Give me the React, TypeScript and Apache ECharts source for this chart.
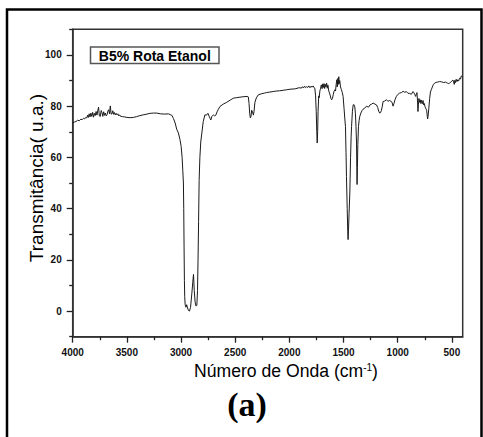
import React, { useEffect, useRef } from "react";
import * as echarts from "echarts";

// FTIR spectrum: [wavenumber (cm-1), transmittance (u.a.)]
const spectrum: [number, number][] = [
  [4000, 73.4], [3985, 73.8], [3970, 74.0], [3955, 74.5], [3940, 74.3], [3925, 74.9],
  [3913, 74.7], [3900, 75.3], [3890, 75.0], [3880, 75.6], [3870, 75.4], [3862, 76.5],
  [3855, 75.6], [3848, 77.0], [3840, 75.8], [3832, 77.3], [3824, 76.0], [3816, 77.6],
  [3808, 75.7], [3800, 77.2], [3792, 76.3], [3784, 77.9], [3776, 76.5], [3768, 78.4],
  [3761, 79.6], [3754, 76.2], [3745, 76.0], [3737, 78.3], [3729, 77.4], [3722, 76.0],
  [3714, 77.8], [3706, 76.4], [3699, 77.3], [3691, 76.2], [3683, 76.6], [3676, 78.0],
  [3668, 78.6], [3660, 77.0], [3653, 80.1], [3645, 76.9], [3637, 77.0], [3630, 78.2],
  [3622, 76.8], [3614, 77.5], [3607, 76.6], [3599, 77.2], [3591, 76.6], [3583, 77.0],
  [3575, 76.2], [3567, 76.6], [3561, 76.1], [3540, 75.9], [3520, 75.8], [3499, 75.6],
  [3470, 75.5], [3440, 75.6], [3410, 75.9], [3380, 76.3], [3350, 76.6], [3315, 76.9],
  [3285, 77.2], [3254, 77.3], [3225, 77.3], [3190, 77.0], [3150, 76.9], [3116, 77.0],
  [3100, 76.7], [3084, 76.4], [3070, 75.2], [3054, 73.4], [3040, 71.0], [3024, 69.5],
  [3010, 67.0], [2999, 64.3], [2990, 60.0], [2984, 55.0], [2978, 50.0], [2975, 40.0],
  [2972, 25.0], [2969, 12.0], [2966, 5.8], [2962, 2.5], [2955, 1.5], [2948, 2.5],
  [2940, 1.2], [2930, 0.2], [2922, 0.0], [2912, 1.5], [2900, 7.0], [2892, 11.0],
  [2885, 14.3], [2878, 8.0], [2870, 3.5], [2862, 2.0], [2854, 2.2], [2848, 8.0],
  [2843, 20.0], [2838, 35.0], [2833, 51.0], [2826, 60.0], [2818, 66.0], [2808, 69.5],
  [2795, 74.0], [2780, 76.6], [2765, 76.5], [2752, 77.2], [2740, 76.0], [2732, 75.2],
  [2725, 74.6], [2715, 76.0], [2701, 76.6], [2690, 76.2], [2680, 76.4], [2665, 78.0],
  [2655, 78.8], [2640, 79.9], [2610, 80.8], [2578, 81.5], [2545, 82.4], [2517, 83.1],
  [2490, 83.3], [2456, 83.5], [2420, 83.7], [2390, 83.8], [2379, 83.6], [2372, 81.0],
  [2366, 77.0], [2360, 75.4], [2354, 76.0], [2348, 78.4], [2340, 77.8], [2332, 76.5],
  [2326, 78.0], [2318, 81.5], [2305, 83.2], [2287, 84.4], [2260, 84.8], [2230, 85.1],
  [2210, 85.3], [2180, 85.5], [2150, 85.7], [2120, 85.9], [2090, 86.0], [2057, 86.2],
  [2025, 86.4], [1995, 86.6], [1965, 86.7], [1940, 86.8], [1920, 87.1], [1903, 87.2],
  [1890, 87.0], [1880, 87.6], [1870, 87.1], [1860, 87.8], [1850, 87.2], [1840, 87.6],
  [1830, 87.3], [1820, 87.9], [1810, 87.2], [1800, 87.8], [1790, 87.4], [1780, 87.9],
  [1772, 87.2], [1765, 87.0], [1758, 84.0], [1752, 78.0], [1747, 70.0], [1743, 65.6],
  [1739, 70.0], [1735, 78.0], [1729, 84.0], [1725, 83.3], [1718, 86.0], [1712, 87.0],
  [1705, 88.3], [1698, 86.8], [1692, 88.7], [1686, 87.3], [1680, 88.8], [1674, 86.9],
  [1668, 88.5], [1662, 87.5], [1656, 89.0], [1650, 87.0], [1644, 88.2], [1637, 86.0],
  [1630, 85.2], [1622, 84.0], [1615, 82.8], [1609, 82.5], [1602, 83.0], [1595, 84.5],
  [1588, 85.8], [1580, 86.4], [1574, 85.9], [1568, 88.5], [1562, 90.3], [1558, 87.5],
  [1553, 90.8], [1548, 88.5], [1544, 91.5], [1540, 88.8], [1535, 90.0], [1528, 87.5],
  [1520, 86.5], [1512, 85.4], [1504, 83.8], [1495, 79.0], [1488, 75.0], [1482, 72.0],
  [1477, 62.0], [1473, 52.6], [1466, 40.0], [1461, 31.0], [1458, 27.9], [1454, 32.0],
  [1449, 38.0], [1442, 46.1], [1435, 60.0], [1430, 68.0], [1426, 72.0], [1418, 78.0],
  [1411, 80.5], [1404, 80.6], [1396, 79.7], [1390, 77.0], [1385, 72.0], [1380, 65.6],
  [1377, 55.0], [1375, 49.4], [1372, 56.0], [1368, 65.0], [1362, 72.0], [1356, 74.5],
  [1350, 76.0], [1340, 77.3], [1330, 78.2], [1320, 78.8], [1305, 79.2], [1288, 80.0],
  [1270, 79.6], [1255, 80.5], [1240, 80.8], [1227, 81.2], [1210, 80.8], [1196, 80.5],
  [1185, 79.5], [1175, 78.0], [1166, 77.3], [1158, 77.5], [1150, 78.4], [1142, 80.0],
  [1135, 81.8], [1120, 82.0], [1104, 82.5], [1090, 81.9], [1075, 82.2], [1058, 81.8],
  [1050, 81.2], [1043, 80.0], [1035, 81.0], [1025, 82.5], [1012, 83.8], [1000, 84.5],
  [982, 85.1], [965, 85.3], [950, 85.8], [935, 85.4], [920, 85.7], [905, 85.0],
  [890, 85.0], [875, 84.6], [859, 85.7], [850, 85.2], [842, 84.5], [834, 83.8],
  [828, 84.8], [822, 85.3], [817, 82.0], [813, 77.9], [809, 80.5], [804, 83.0],
  [798, 81.5], [792, 82.5], [786, 81.0], [780, 82.3], [772, 81.0], [766, 82.2],
  [761, 80.5], [754, 81.0], [748, 79.8], [740, 79.0], [733, 78.4], [728, 76.5],
  [724, 75.0], [720, 76.0], [714, 78.5], [705, 83.0], [698, 85.5], [690, 86.4],
  [680, 87.5], [670, 88.5], [659, 89.0], [645, 89.3], [630, 89.4], [613, 89.6],
  [595, 89.5], [575, 89.2], [560, 89.4], [552, 89.2], [540, 89.0], [530, 88.8],
  [521, 89.0], [510, 89.4], [500, 89.8], [490, 90.2], [484, 89.5], [478, 88.5],
  [472, 90.1], [466, 89.2], [460, 90.5], [452, 89.6], [445, 90.3], [438, 89.8],
  [429, 90.9], [420, 90.6], [413, 91.8], [404, 91.5],
];

const xMajorTicks = [4000, 3500, 3000, 2500, 2000, 1500, 1000, 500];
const xMinorTicks = [3750, 3250, 2750, 2250, 1750, 1250, 750];
const yMajorTicks = [0, 20, 40, 60, 80, 100];
const yMinorTicks = [-10, 10, 30, 50, 70, 90, 110];

const legendText = "B5% Rota Etanol";
const yTitle = "Transmitância( u.a.)";
const xTitle = "Número de Onda (cm{sup|-1})";
const panelLabel = "(a)";

const SANS = "'Liberation Sans', Arial, Helvetica, sans-serif";
const SERIF = "'Liberation Serif', 'Times New Roman', serif";

export default function App() {
  const ref = useRef<HTMLDivElement>(null);

  useEffect(() => {
    if (!ref.current) return;
    const chart = echarts.init(ref.current, undefined, { renderer: "svg" });

    const axisLine = { show: true, onZero: false, lineStyle: { color: "#333", width: 1.5 } };
    const labelStyle = {
      color: "#111",
      fontFamily: SANS,
      fontWeight: "bold" as const,
      fontSize: 10,
      formatter: (v: number) => String(v),
    };

    chart.setOption({
      animation: false,
      backgroundColor: "#fff",
      grid: {
        left: 72.7,
        top: 29.3,
        right: 20.3,
        bottom: 100.3,
        show: true,
        borderColor: "#333",
        borderWidth: 1.5,
        backgroundColor: "transparent",
      },
      xAxis: [
        {
          type: "value",
          min: 400,
          max: 4000,
          inverse: true,
          position: "bottom",
          axisLine,
          splitLine: { show: false },
          axisTick: {
            show: true,
            inside: false,
            length: 6,
            customValues: xMajorTicks,
            lineStyle: { color: "#222", width: 1.3 },
          },
          axisLabel: { ...labelStyle, margin: 11, customValues: xMajorTicks },
        },
        {
          type: "value",
          min: 400,
          max: 4000,
          inverse: true,
          position: "bottom",
          axisLine: { show: false, onZero: false },
          splitLine: { show: false },
          axisTick: {
            show: true,
            inside: false,
            length: 3.5,
            customValues: xMinorTicks,
            lineStyle: { color: "#222", width: 1.3 },
          },
          axisLabel: { show: false },
        },
      ],
      yAxis: [
        {
          type: "value",
          min: -10,
          max: 110,
          position: "left",
          axisLine,
          splitLine: { show: false },
          axisTick: {
            show: true,
            inside: false,
            length: 6,
            customValues: yMajorTicks,
            lineStyle: { color: "#222", width: 1.3 },
          },
          axisLabel: { ...labelStyle, margin: 11, customValues: yMajorTicks },
        },
        {
          type: "value",
          min: -10,
          max: 110,
          position: "left",
          axisLine: { show: false, onZero: false },
          splitLine: { show: false },
          axisTick: {
            show: true,
            inside: false,
            length: 3.5,
            customValues: yMinorTicks,
            lineStyle: { color: "#222", width: 1.3 },
          },
          axisLabel: { show: false },
        },
      ],
      series: [
        {
          type: "line",
          xAxisIndex: 0,
          yAxisIndex: 0,
          data: spectrum,
          showSymbol: false,
          symbol: "none",
          lineStyle: { color: "#1a1a1a", width: 1 },
        },
      ],
      graphic: [
        {
          type: "rect",
          shape: { x: 7, y: 9.5, width: 474.5, height: 470 },
          style: { fill: "none", stroke: "#000", lineWidth: 2.5 },
          silent: true,
        },
        {
          type: "rect",
          shape: { x: 90.5, y: 47, width: 128.5, height: 16.5 },
          style: { fill: "#fff", stroke: "#555", lineWidth: 1.5 },
          silent: true,
        },
        {
          type: "text",
          x: 154.8,
          y: 55.5,
          style: {
            text: legendText,
            fontFamily: SANS,
            fontWeight: "bold",
            fontSize: 14,
            fill: "#000",
            align: "center",
            verticalAlign: "middle",
          },
          silent: true,
        },
        {
          type: "text",
          x: 36.5,
          y: 178,
          rotation: Math.PI / 2,
          style: {
            text: yTitle,
            fontFamily: SANS,
            fontSize: 19,
            fill: "#000",
            align: "center",
            verticalAlign: "middle",
          },
          silent: true,
        },
        {
          type: "text",
          x: 286,
          y: 371,
          style: {
            text: xTitle,
            fontFamily: SANS,
            fontSize: 17.6,
            fill: "#000",
            align: "center",
            verticalAlign: "middle",
            rich: {
              sup: {
                fontFamily: SANS,
                fontSize: 10,
                verticalAlign: "top",
                fill: "#000",
              },
            },
          },
          silent: true,
        },
        {
          type: "text",
          x: 247,
          y: 404,
          style: {
            text: panelLabel,
            fontFamily: SERIF,
            fontWeight: "bold",
            fontSize: 34,
            fill: "#000",
            align: "center",
            verticalAlign: "middle",
          },
          silent: true,
        },
      ],
    });

    return () => chart.dispose();
  }, []);

  return (
    <div
      ref={ref}
      style={{ position: "fixed", left: 0, top: 0, width: 483, height: 437, background: "#fff" }}
    />
  );
}
